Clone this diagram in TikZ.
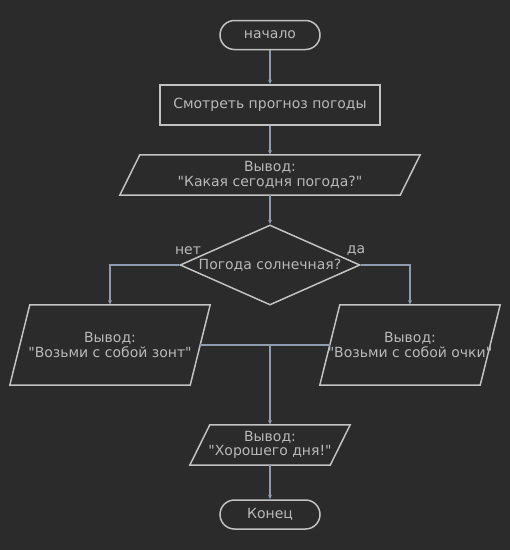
\documentclass[tikz,border=0pt]{standalone}
\usepackage{fontspec}
\newfontfamily\dvsans{DejaVu Sans}
\usetikzlibrary{shapes.geometric, arrows.meta}
\definecolor{bg}{HTML}{2B2B2B}
\definecolor{shapeline}{HTML}{C2C2C2}
\definecolor{conn}{HTML}{8F9CAD}
\definecolor{txt}{HTML}{B9B9B9}
\begin{document}
\begin{tikzpicture}[x=1pt,y=-1pt,
  every node/.style={font=\dvsans\fontsize{14}{14.3}\selectfont, text=txt, align=center, inner sep=0pt},
  base/.style={draw=shapeline, line width=1.5pt},
  term/.style={base, rectangle, rounded corners=14.5pt, minimum width=100pt, minimum height=29pt},
  proc/.style={base, rectangle, minimum width=220pt, minimum height=40pt},
  iobox/.style={rectangle, draw=none},
  decision/.style={base, diamond, aspect=2.25, minimum width=180pt, minimum height=80pt},
  conn/.style={draw=conn, line width=1.3pt, -{Triangle[length=4.5pt,width=3.5pt]}},
  connl/.style={draw=conn, line width=1.3pt},
  lbl/.style={}
]
\fill[bg] (0,0) rectangle (510,550);
\useasboundingbox (0,0) rectangle (510,550);

\node[term] (start) at (270,35) {начало};
\node[proc] (proc) at (270,105) {Смотреть прогноз погоды};
\node[iobox, minimum width=300pt, minimum height=40pt] (io1) at (270,175) {Вывод:\\"Какая сегодня погода?"};
\node[decision] (dec) at (270,265) {Погода солнечная?};
\node[iobox, minimum width=200pt, minimum height=80pt] (noio) at (110,345) {Вывод:\\"Возьми с собой зонт"};
\node[iobox, minimum width=180pt, minimum height=80pt] (yesio) at (410,345) {Вывод:\\"Возьми с собой очки"};
\node[iobox, minimum width=160pt, minimum height=40pt] (fin) at (270,445) {Вывод:\\"Хорошего дня!"};
\node[term] (end) at (270,514.5) {Конец};

\foreach \n in {io1,noio,yesio,fin}{
  \draw[base, line join=miter] ([xshift=20pt]\n.north west) -- (\n.north east)
     -- ([xshift=-20pt]\n.south east) -- (\n.south west) -- cycle;
}

\node[lbl] (no) at (188,251) {нет};
\node[lbl] (yes) at (356,251) {да};

\coordinate (nor) at ([xshift=-10pt]noio.east);
\coordinate (yesl) at ([xshift=10pt]yesio.west);
\coordinate (j) at (nor -| dec.south);

\draw[conn] (start) -- (proc);
\draw[conn] (proc) -- (io1);
\draw[conn] (io1) -- (dec);
\draw[conn] (dec.west) -| (noio.north);
\draw[conn] (dec.east) -| (yesio.north);
\draw[connl] (nor) -- (j);
\draw[connl] (yesl) -- (j);
\draw[conn] (j) -- (fin);
\draw[conn] (fin) -- (end);
\end{tikzpicture}
\end{document}
